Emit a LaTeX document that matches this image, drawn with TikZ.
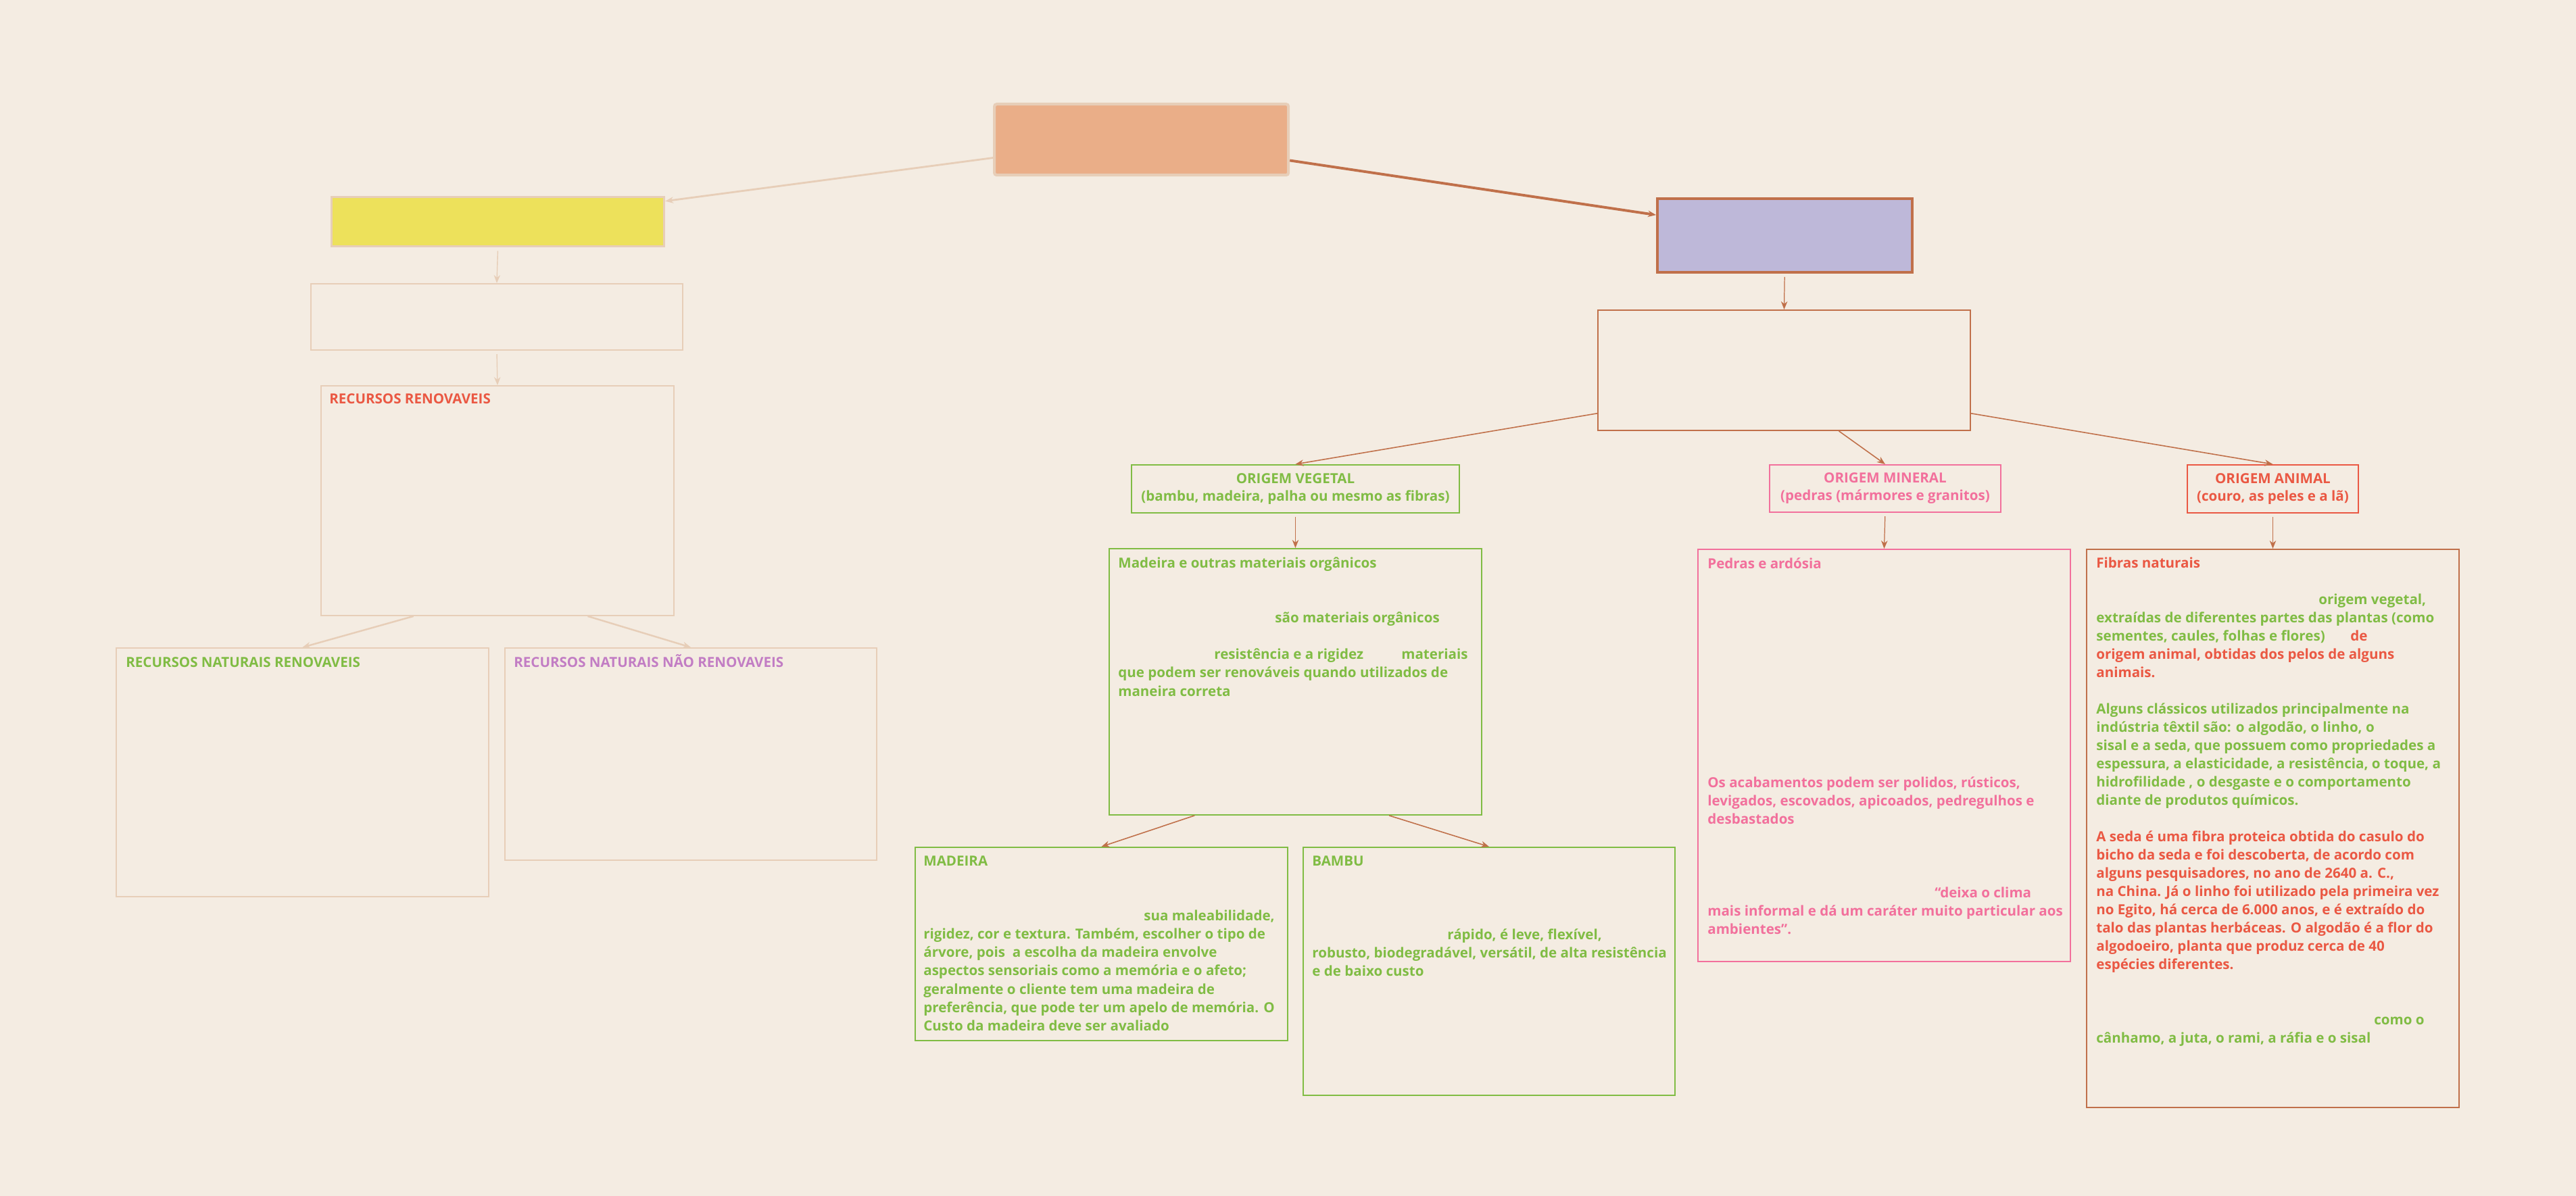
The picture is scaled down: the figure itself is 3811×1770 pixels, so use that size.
\documentclass[tikz,border=0pt]{standalone}
\usepackage{fontspec}
\setmainfont{Open Sans}
\usepackage{xcolor}
\usepackage{tikz}
\usetikzlibrary{arrows.meta,positioning}
\definecolor{paper}{HTML}{F4ECE2}
\definecolor{peach}{HTML}{EAAE88}
\definecolor{sand}{HTML}{E7CEB8}
\definecolor{lemon}{HTML}{EDE15B}
\definecolor{lilac}{HTML}{BEB8D9}
\definecolor{rust}{HTML}{C0704A}
\definecolor{leaf}{HTML}{80BC44}
\definecolor{rose}{HTML}{F2709C}
\definecolor{coral}{HTML}{EA5843}
\definecolor{orchid}{HTML}{C27DC4}
\newlength\pxu
\setlength\pxu{0.02cm}
\newcommand\atx[2]{\makebox[0pt][l]{\hspace*{#1\pxu}#2}}

\begin{document}
\begin{tikzpicture}[x=0.02cm,y=-0.02cm,>={Stealth[length=2.4mm,width=1.9mm]},
      bx/.style n args={2}{anchor=north west,minimum width=#1\pxu,minimum height=#2\pxu,inner sep=0pt},
      pale/.style={draw=sand,line width=1.1pt},
      brn/.style={draw=rust,line width=1.1pt},
      grn/.style={draw=leaf,line width=1.1pt},
      pnk/.style={draw=rose,line width=1.1pt},
      crl/.style={draw=coral,line width=1.1pt},
      txt/.style={anchor=base west,align=left,inner sep=0pt,font=\fontsize{11.7}{15.37}\selectfont\bfseries},
      ctr/.style={align=center,font=\fontsize{11.7}{14.8}\selectfont\bfseries},
      e/.style={draw=sand,line width=1.4pt,->},
      f/.style={draw=rust,line width=0.9pt,->}]
    \fill[paper] (0,0) rectangle (3811,1770);
    \useasboundingbox (0,0) rectangle (3811,1770);
    % LEFT: renewable resources
    \node[bx={435}{105},fill=peach,draw=sand,line width=2.4pt,rounded corners=2pt] (TOP) at (1469,152) {};
    \node[bx={492}{73},fill=lemon,draw=sand,line width=1.8pt] (YEL) at (489,290) {};
    \node[bx={550}{98},pale] (E1) at (459,419) {};
    \node[bx={522}{340},pale] (RR) at (474,570) {};
    \node[bx={551}{368},pale] (NR) at (171,958) {};
    \node[bx={550}{314},pale] (NNR) at (746,958) {};
    \node[txt,text=coral] (RRt) at ([shift={(13,28)}]RR.north west) {RECURSOS RENOVAVEIS};
    \node[txt,text=leaf] (NRt) at ([shift={(15,29)}]NR.north west) {RECURSOS NATURAIS RENOVAVEIS};
    \node[txt,text=orchid] (NNRt) at ([shift={(14,29)}]NNR.north west) {RECURSOS NATURAIS NÃO RENOVAVEIS};
    \draw[e,line width=1.6pt] (TOP.187.5) -- (YEL.7.3);
    \draw[e,line width=0.8pt,shorten <=3pt] (YEL.south) -- (E1.north);
    \draw[e,line width=0.8pt,shorten <=3pt] (E1.south) -- (RR.north);
    \draw[e] (RR.234.1) -- (NR.north);
    \draw[e] (RR.-52.4) -- (NNR.north);
    % RIGHT: origins of the materials
    \node[bx={377}{109},fill=lilac,draw=rust,line width=2pt] (PUR) at (2450,292) {};
    \node[bx={551}{178},brn] (E2) at (2363,458) {};
    \node[bx={485}{71},grn,ctr,text=leaf] (VEG) at (1673,687) {ORIGEM VEGETAL\\(bambu, madeira, palha ou mesmo as fibras)};
    \node[bx={342}{70},pnk,ctr,text=rose] (MIN) at (2617,687) {ORIGEM MINERAL\\(pedras (mármores e granitos)};
    \node[bx={253}{71},crl,ctr,text=coral] (ANI) at (3235,687) {ORIGEM ANIMAL\\(couro, as peles e a lã)};
    \node[bx={551}{394},grn] (MAD) at (1640,811) {};
    \node[bx={551}{286},grn] (MADE) at (1353,1253) {};
    \node[bx={550}{367},grn] (BAM) at (1927,1253) {};
    \node[bx={551}{610},pnk] (PED) at (2511,812) {};
    \node[bx={551}{826},brn] (FIB) at (3086,812) {};
    \draw[f,line width=2.2pt] (TOP.-8.8) -- (PUR.171.4);
    \draw[f,line width=0.7pt,shorten <=3pt] (PUR.south) -- (E2.north);
    \draw[f] (E2.193.7) -- (VEG.north);
    \draw[f] (E2.-48.9) -- (MIN.north);
    \draw[f] (E2.-13.7) -- (ANI.north);
    \draw[f,line width=0.7pt,shorten <=3pt] (VEG.south) -- (MAD.north);
    \draw[f] (MAD.233) -- (MADE.north);
    \draw[f] (MAD.-55.9) -- (BAM.north);
    \draw[f,line width=0.7pt,shorten <=3pt] (MIN.south) -- (PED.north);
    \draw[f,line width=0.7pt,shorten <=3pt] (ANI.south) -- (FIB.north);
    % texts inside the boxes (placed by the baseline of their last line)
    \node[txt,text=leaf] (MADt) at ([shift={(14,219)}]MAD.north west) {Madeira e outras materiais orgânicos\\ \\ \\
      \atx{232}{são materiais orgânicos}\\ \\
      \atx{142}{resistência e a rigidez}\atx{419}{materiais}\\
      que podem ser renováveis quando utilizados de\\
      maneira correta};
    \node[txt,text=leaf] (MADEt) at ([shift={(13,272)}]MADE.north west) {MADEIRA\\ \\ \\
      \atx{326}{sua maleabilidade,}\\
      rigidez, cor e textura. Também, escolher o tipo de\\
      árvore, pois\ \ a escolha da madeira envolve\\
      aspectos sensoriais como a memória e o afeto;\\
      geralmente o cliente tem uma madeira de\\
      preferência, que pode ter um apelo de memória. O\\
      Custo da madeira deve ser avaliado};
    \node[txt,text=leaf] (BAMt) at ([shift={(14,191)}]BAM.north west) {BAMBU\\ \\ \\ \\
      \atx{200}{rápido, é leve, flexível,}\\
      robusto, biodegradável, versátil, de alta resistência\\
      e de baixo custo};
    \node[txt,text=rose] (PEDt) at ([shift={(15,570)}]PED.north west) {Pedras e ardósia\\ \\ \\ \\ \\ \\ \\ \\ \\ \\ \\ \\
      Os acabamentos podem ser polidos, rústicos,\\
      levigados, escovados, apicoados, pedregulhos e\\
      desbastados\\ \\ \\ \\
      \atx{336}{“deixa o clima}\\
      mais informal e dá um caráter muito particular aos\\
      ambientes”.};
    \node[txt,text=leaf] (FIBt) at ([shift={(15,731)}]FIB.north west) {\textcolor{coral}{Fibras naturais}\\ \\
      \atx{329}{origem vegetal,}\\
      extraídas de diferentes partes das plantas (como\\
      \atx{376}{\textcolor{coral}{de}}sementes, caules, folhas e flores)\\
      \textcolor{coral}{origem animal, obtidas dos pelos de alguns}\\
      \textcolor{coral}{animais.}\\ \\
      Alguns clássicos utilizados principalmente na\\
      indústria têxtil são: o algodão, o linho, o\\
      sisal e a seda, que possuem como propriedades a\\
      espessura, a elasticidade, a resistência, o toque, a\\
      hidrofilidade , o desgaste e o comportamento\\
      diante de produtos químicos.\\ \\
      \textcolor{coral}{A seda é uma fibra proteica obtida do casulo do}\\
      \textcolor{coral}{bicho da seda e foi descoberta, de acordo com}\\
      \textcolor{coral}{alguns pesquisadores, no ano de 2640 a. C.,}\\
      \textcolor{coral}{na China. Já o linho foi utilizado pela primeira vez}\\
      \textcolor{coral}{no Egito, há cerca de 6.000 anos, e é extraído do}\\
      \textcolor{coral}{talo das plantas herbáceas. O algodão é a flor do}\\
      \textcolor{coral}{algodoeiro, planta que produz cerca de 40}\\
      \textcolor{coral}{espécies diferentes.}\\ \\ \\
      \atx{411}{como o}\\
      cânhamo, a juta, o rami, a ráfia e o sisal};
  \end{tikzpicture}
\end{document}
